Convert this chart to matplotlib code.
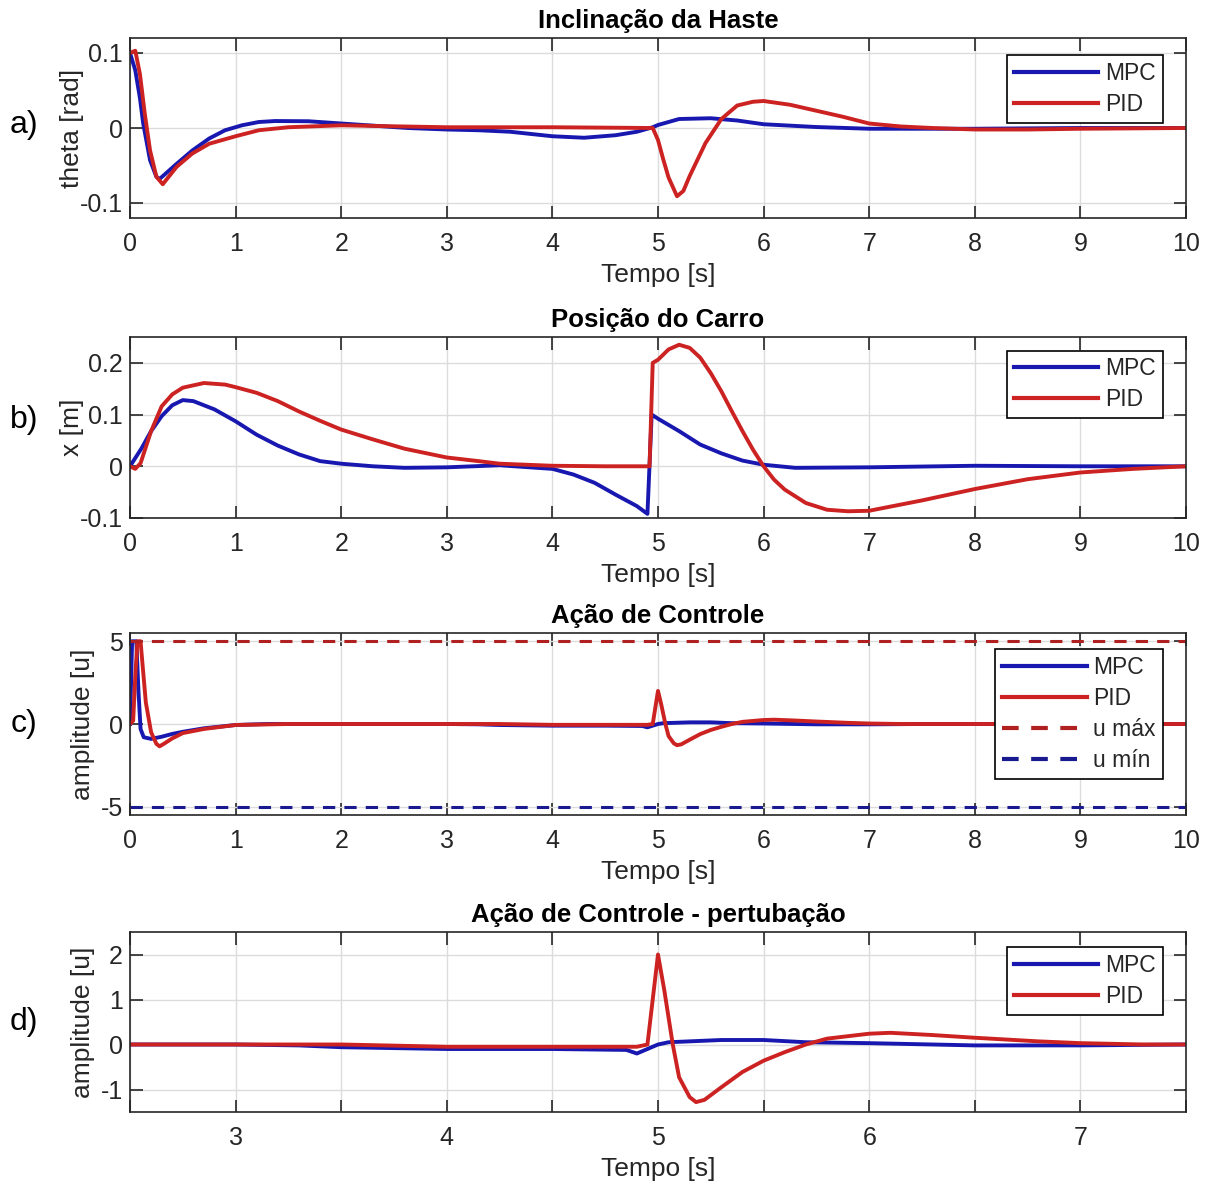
import matplotlib
matplotlib.use("Agg")
import matplotlib.pyplot as plt

plt.rcParams['font.family'] = ['Liberation Sans', 'DejaVu Sans']
plt.rcParams['axes.unicode_minus'] = False

# ---- a) inclinacao da haste (theta) ----
t_th_mpc = [0, 0.05, 0.094, 0.125, 0.19, 0.25, 0.28, 0.44, 0.59, 0.75, 0.9, 1.06, 1.22, 1.375, 1.69, 2.0,
            2.63, 3.0, 3.3, 3.6, 4.0, 4.3, 4.6, 4.8, 4.95, 5.0, 5.2, 5.5, 5.75, 6.0, 6.5, 7.0, 7.5, 8.0, 9.0, 10.0]
th_mpc = [0.1, 0.077, 0.04, 0.006, -0.043, -0.065, -0.068, -0.048, -0.03, -0.014, -0.003, 0.0036, 0.008, 0.0093, 0.009, 0.006,
          0.0, -0.002, -0.003, -0.005, -0.011, -0.013, -0.0096, -0.005, 0.001, 0.004, 0.012, 0.013, 0.01, 0.005, 0.0013, -0.001, -0.001, -0.001, 0.0, 0.0]

t_th_pid = [0, 0.05, 0.094, 0.14, 0.19, 0.25, 0.31, 0.44, 0.59, 0.75, 1.0, 1.22, 1.5, 2.0, 2.6, 3.0, 4.0, 4.95,
            5.0, 5.05, 5.1, 5.18, 5.24, 5.3, 5.45, 5.6, 5.75, 5.9, 6.0, 6.25, 6.5, 6.75, 7.0, 7.3, 7.6, 8.0, 8.5, 9.0, 10.0]
th_pid = [0.1, 0.103, 0.072, 0.019, -0.03, -0.065, -0.075, -0.052, -0.034, -0.021, -0.011, -0.003, 0.001, 0.0036, 0.002, 0.001, 0.001, 0.0,
          -0.016, -0.042, -0.066, -0.091, -0.084, -0.064, -0.02, 0.012, 0.03, 0.035, 0.036, 0.031, 0.023, 0.015, 0.006, 0.002, 0.0, -0.002, -0.002, -0.001, 0.0]

# ---- b) posicao do carro ----
t_x_mpc = [0, 0.11, 0.2, 0.3, 0.4, 0.5, 0.6, 0.8, 1.0, 1.2, 1.4, 1.6, 1.8, 2.0, 2.3, 2.6, 3.0, 3.5,
           4.0, 4.2, 4.4, 4.6, 4.8, 4.9, 4.94, 5.0, 5.2, 5.4, 5.6, 5.8, 6.0, 6.3, 7.0, 8.0, 9.0, 10.0]
x_mpc = [0, 0.035, 0.068, 0.097, 0.118, 0.128, 0.126, 0.11, 0.087, 0.061, 0.04, 0.023, 0.01, 0.005, 0.0, -0.003, -0.002, 0.002,
         -0.005, -0.016, -0.032, -0.055, -0.077, -0.092, 0.1, 0.092, 0.068, 0.042, 0.025, 0.011, 0.003, -0.003, -0.002, 0.001, 0.0, 0.0]

t_x_pid = [0, 0.05, 0.1, 0.2, 0.3, 0.4, 0.5, 0.7, 0.9, 1.0, 1.2, 1.4, 1.6, 1.8, 2.0, 2.3, 2.6, 3.0, 3.3, 3.5, 4.0, 4.5, 4.92,
           4.95, 5.0, 5.1, 5.2, 5.3, 5.4, 5.5, 5.6, 5.7, 5.8, 5.9, 6.0, 6.1, 6.2, 6.4, 6.6, 6.8, 7.0, 7.2, 7.5, 8.0, 8.5, 9.0, 9.5, 10.0]
x_pid = [0, -0.005, 0.006, 0.068, 0.116, 0.139, 0.152, 0.161, 0.158, 0.153, 0.142, 0.126, 0.106, 0.088, 0.071, 0.052, 0.034, 0.017, 0.01, 0.005, 0.001, 0.0, 0.0,
         0.2, 0.206, 0.226, 0.235, 0.229, 0.21, 0.18, 0.145, 0.106, 0.068, 0.032, 0.0, -0.026, -0.045, -0.071, -0.084, -0.087, -0.086, -0.078, -0.066, -0.044, -0.025, -0.012, -0.005, 0.0]

# ---- c) / d) acao de controle ----
t_u_mpc = [0, 0.01, 0.02, 0.06, 0.08, 0.1, 0.13, 0.2, 0.3, 0.4, 0.5, 0.7, 1.0, 1.3, 2.0, 2.5, 3.0, 3.3, 3.5, 4.0, 4.5,
           4.85, 4.9, 4.95, 5.0, 5.05, 5.3, 5.5, 5.7, 6.0, 6.3, 6.5, 7.0, 7.5, 8.0, 9.0, 10.0]
u_mpc = [0, 2.5, 5, 5, 2, -0.3, -0.8, -0.9, -0.77, -0.6, -0.47, -0.26, -0.06, 0, 0, 0, 0, -0.02, -0.06, -0.1, -0.1,
         -0.12, -0.2, -0.1, 0, 0.05, 0.1, 0.1, 0.05, 0.03, 0, -0.02, -0.02, 0, 0, 0, 0]

t_u_pid = [0, 0.03, 0.05, 0.07, 0.1, 0.12, 0.15, 0.2, 0.25, 0.28, 0.32, 0.4, 0.5, 0.7, 1.0, 1.5, 2.5, 3.5, 4.0, 4.9,
           4.95, 4.98, 5.0, 5.03, 5.07, 5.1, 5.15, 5.18, 5.22, 5.3, 5.4, 5.5, 5.6, 5.7, 5.8, 6.0, 6.1, 6.3, 6.5, 6.8,
           7.0, 7.3, 7.5, 8.0, 9.0, 10.0]
u_pid = [0, 0.2, 2.9, 5, 5, 3.5, 1.3, -0.5, -1.2, -1.35, -1.2, -0.87, -0.55, -0.3, -0.06, 0, 0, 0, -0.05, -0.05,
         0, 1.2, 2.0, 1.2, 0, -0.73, -1.17, -1.28, -1.23, -0.95, -0.61, -0.36, -0.17, 0, 0.13, 0.24, 0.26, 0.21, 0.15, 0.07,
         0.03, 0, 0, 0, 0, 0]

u_max = 5
u_min = -5

BLUE = '#1818b0'
RED = '#cc2222'
DARK = '#262626'

W, H = 1212, 1185
fig = plt.figure(figsize=(W / 100, H / 100), dpi=100)


def make_ax(top, bottom):
    ax = fig.add_axes([130 / W, 1 - bottom / H, 1056 / W, (bottom - top) / H])
    ax.grid(True, color='#dcdcdc', linewidth=1.0)
    ax.set_axisbelow(True)
    ax.tick_params(direction='in', length=9, width=1.2, top=True, right=True,
                   labelsize=18, colors=DARK, pad=10)
    ax.tick_params(axis='y', pad=5)
    for s in ax.spines.values():
        s.set_color(DARK)
        s.set_linewidth(1.2)
    return ax


def deco(ax, title, ylabel, letter, ly, lab_x):
    ax.set_title(title, fontsize=18.5, fontweight='bold', color='black', pad=7)
    ax.set_xlabel('Tempo [s]', fontsize=19, color=DARK, labelpad=5)
    ax.set_ylabel(ylabel, fontsize=19, color=DARK)
    ax.yaxis.set_label_coords(lab_x, 0.5)
    fig.text(24 / W, 1 - ly / H, letter, fontsize=23, ha='center', va='center', color='black')


def legend(ax, ytop):
    leg = ax.legend(loc='upper right', bbox_to_anchor=(0.978, ytop), borderaxespad=0,
                    fontsize=16.5, handlelength=3.7, handletextpad=0.3, labelspacing=0.35,
                    borderpad=0.3, fancybox=False, framealpha=1, edgecolor='black')
    leg.get_frame().set_linewidth(1.2)
    for txt in leg.get_texts():
        txt.set_color(DARK)
    for ln in leg.get_lines():
        ln.set_linewidth(3)


# a)
ax = make_ax(38, 218)
ax.plot(t_th_mpc, th_mpc, color=BLUE, lw=2.8, label='MPC')
ax.plot(t_th_pid, th_pid, color=RED, lw=2.8, label='PID')
ax.set_xlim(0, 10)
ax.set_ylim(-0.12, 0.12)
ax.set_xticks(range(0, 11))
ax.set_yticks([-0.1, 0, 0.1], ['-0.1', '0', '0.1'])
deco(ax, 'Inclinação da Haste', 'theta [rad]', 'a)', 125, -0.044)
legend(ax, 0.906)

# b)
ax = make_ax(337, 518)
ax.plot(t_x_mpc, x_mpc, color=BLUE, lw=2.8, label='MPC')
ax.plot(t_x_pid, x_pid, color=RED, lw=2.8, label='PID')
ax.set_xlim(0, 10)
ax.set_ylim(-0.1, 0.25)
ax.set_xticks(range(0, 11))
ax.set_yticks([-0.1, 0, 0.1, 0.2], ['-0.1', '0', '0.1', '0.2'])
deco(ax, 'Posição do Carro', 'x [m]', 'b)', 420, -0.044)
legend(ax, 0.925)

# c)
ax = make_ax(633, 815)
ax.plot(t_u_mpc, u_mpc, color=BLUE, lw=2.8, label='MPC')
ax.plot(t_u_pid, u_pid, color=RED, lw=2.8, label='PID')
ax.axhline(u_max, color='#b02020', lw=2.2, ls=(0, (4, 3)), label='u máx')
ax.axhline(u_min, color='#1a1a90', lw=2.2, ls=(0, (4, 3)), label='u mín')
ax.set_xlim(0, 10)
ax.set_ylim(-5.5, 5.5)
ax.set_xticks(range(0, 11))
ax.set_yticks([-5, 0, 5])
deco(ax, 'Ação de Controle', 'amplitude [u]', 'c)', 724, -0.033)
legend(ax, 0.912)

# d)
ax = make_ax(932, 1112)
ax.plot(t_u_mpc, u_mpc, color=BLUE, lw=2.8, label='MPC')
ax.plot(t_u_pid, u_pid, color=RED, lw=2.8, label='PID')
ax.set_xlim(2.5, 7.5)
ax.set_ylim(-1.5, 2.5)
half = [2.5 + 0.5 * i for i in range(11)]
ax.set_xticks(half, [str(int(v)) if v == int(v) else '' for v in half])
ax.set_yticks([-1, 0, 1, 2])
deco(ax, 'Ação de Controle - pertubação', 'amplitude [u]', 'd)', 1022, -0.033)
legend(ax, 0.917)

fig.savefig('out.png', dpi=100)
